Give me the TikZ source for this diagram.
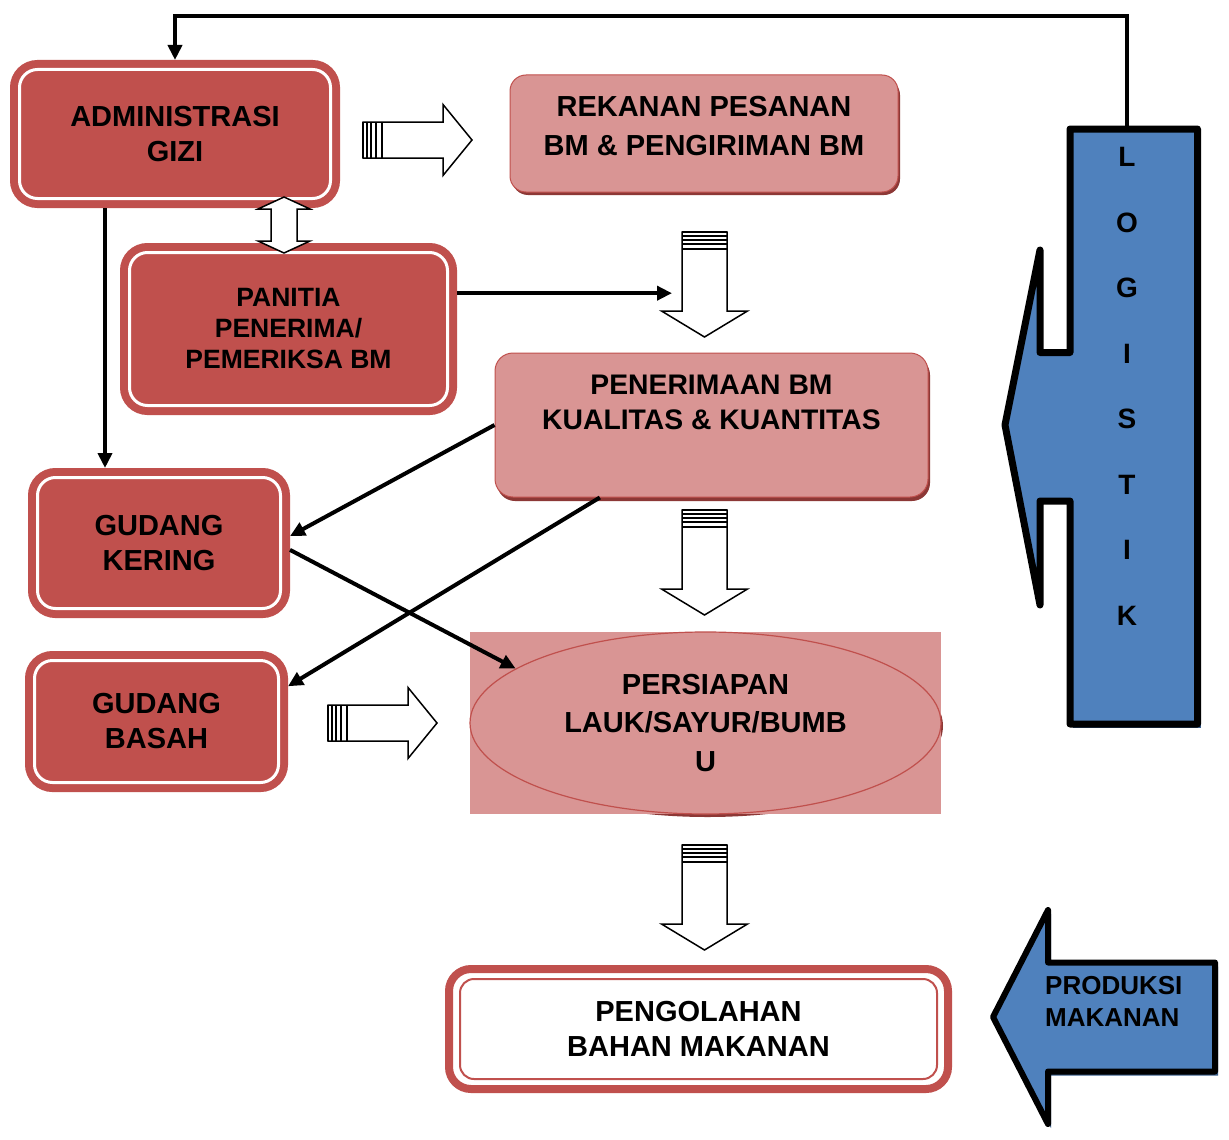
\documentclass[tikz,border=0pt]{standalone}
\usepackage{fontspec}
\setmainfont{Liberation Sans}
\usetikzlibrary{arrows.meta,shapes.geometric}
\definecolor{myred}{HTML}{C0504D}
\definecolor{lightred}{HTML}{D99594}
\definecolor{shadowred}{HTML}{8C3836}
\definecolor{myblue}{HTML}{4F81BD}
\definecolor{darkblue}{HTML}{385D8A}
\tikzset{
  blk/.style={draw=black, fill=white, line width=1.5pt, line join=miter},
  stripe/.style={draw=black, line width=1.1pt},
  pics/downblk/.style={code={
    \draw[blk] (-22.5,0) -- (-22.5,79) -- (-43,79) -- (0,105) -- (43,79) -- (22.5,79) -- (22.5,0) -- cycle;
    \foreach \s in {0,4,8,12,17} \draw[stripe] (-22.5,\s) -- (22.5,\s);
  }},
  pics/rightblk/.style={code={
    \draw[blk] (0,-18) -- (80,-18) -- (80,-35.5) -- (109,0) -- (80,35.5) -- (80,18) -- (0,18) -- cycle;
    \foreach \s in {0,4,8,13,19} \draw[stripe] (\s,-18) -- (\s,18);
  }},
}
\begin{document}
\begin{tikzpicture}[x=1pt,y=-1pt,
  f28/.style={font=\fontsize{29}{35}\selectfont\bfseries},
  dbox/.style={draw=myred, line width=8pt, double=white, double distance=3pt, fill=myred,
    rounded corners=18pt, outer sep=9.5pt, inner sep=0pt, align=center},
  lbox/.style={draw=myred, line width=1pt, fill=lightred, rounded corners=16pt, inner sep=0pt, align=center},
  conn/.style={line width=4pt, -{Triangle[length=15pt,width=14pt]}},
]
\fill[white] (0,0) rectangle (1229,1140);
\path[use as bounding box] (0,0) rectangle (1229,1140);

% left dark red boxes
\node[dbox, f28, minimum width=311pt, minimum height=129pt] (admin) at (175,134) {ADMINISTRASI\\GIZI};
\node[dbox, font=\fontsize{26.5}{31}\selectfont\bfseries, minimum width=318pt, minimum height=153pt] (pan) at (288.5,329) {PANITIA\\PENERIMA/\\PEMERIKSA BM};
\node[dbox, f28, minimum width=243pt, minimum height=131pt] (gk) at (159,543) {GUDANG\\KERING};
\node[dbox, f28, minimum width=244pt, minimum height=122pt] (gb) at (156.5,721.5) {GUDANG\\BASAH};

% light red boxes
\fill[shadowred, rounded corners=16pt] (512,79) rectangle (900,195);
\node[lbox, font=\fontsize{29}{39}\selectfont\bfseries, text depth=16pt, minimum width=388pt, minimum height=117pt] (rek) at (704,133.5) {REKANAN PESANAN\\BM \& PENGIRIMAN BM};
\fill[shadowred, rounded corners=18pt] (497,357) rectangle (930,501);
\node[lbox, font=\fontsize{28.3}{35}\selectfont\bfseries, rounded corners=18pt, text depth=45pt, minimum width=433pt, minimum height=144pt] (pen) at (711.5,425) {PENERIMAAN BM\\KUALITAS \& KUANTITAS};

% persiapan
\fill[shadowred] (707.5,726) ellipse [x radius=235.5, y radius=91];
\fill[lightred] (470,632) rectangle (941,814);
\node[ellipse, draw=myred, line width=1.2pt, fill=lightred, minimum width=471pt, minimum height=182pt, inner sep=0pt, align=center, font=\fontsize{29}{38.5}\selectfont\bfseries] (prep) at (705.5,723) {PERSIAPAN\\LAUK/SAYUR/BUMB\\U};

% pengolahan
\node[draw=myred, line width=8pt, fill=white, rounded corners=22pt, minimum width=499pt, minimum height=120pt, outer sep=4pt, inner sep=0pt, align=center, f28] (peng) at (698.5,1029) {PENGOLAHAN\\BAHAN MAKANAN};
\draw[myred, line width=2pt, rounded corners=14pt] ([shift={(15,14)}]peng.north west) rectangle ([shift={(-15,-14)}]peng.south east);

% LOGISTIK callout
\fill[darkblue] (1073,133) rectangle (1201,728);
\draw[line width=7pt, fill=myblue, line join=round] (1070,129) -- (1197.5,129) -- (1197.5,724) -- (1070,724) -- (1070,501) -- (1040,501) -- (1040,605) -- (1005,425) -- (1040,250) -- (1040,352.5) -- (1070,352.5) -- cycle;
\node[inner sep=0pt, align=center, minimum width=120pt, minimum height=595pt, text depth=80.5pt, font=\fontsize{28}{65.5}\selectfont\bfseries] (logi) at (1127,426.5) {L\\O\\G\\I\\S\\T\\I\\K};

% PRODUKSI MAKANAN arrow
\fill[darkblue] (1218,966.5) -- (1051,966.5) -- (1051,914) -- (996,1021) -- (1051,1128) -- (1051,1075.5) -- (1218,1075.5) -- cycle;
\draw[line width=6pt, fill=myblue, line join=round] (1215,962.5) -- (1048,962.5) -- (1048,910) -- (993,1017) -- (1048,1124) -- (1048,1071.5) -- (1215,1071.5) -- cycle;
\node[anchor=west, align=left, inner sep=0pt, font=\fontsize{26}{32}\selectfont\bfseries] (prod) at (1045,1001) {PRODUKSI\\MAKANAN};

% block arrows
\pic at (704.5,232) {downblk};
\pic at (704.5,510) {downblk};
\pic at (704.5,845) {downblk};
\pic at (363,140) {rightblk};
\begin{scope}[shift={(328,723)}, yscale=1.24]
  \pic {rightblk};
\end{scope}
\draw[blk] (284,197) -- (310,209) -- (297,209) -- (297,241) -- (310,241) -- (284,253) -- (258,241) -- (271,241) -- (271,209) -- (258,209) -- cycle;

% connectors
\coordinate (c105) at (105,0);
\coordinate (tipA) at (672,292);
\draw[conn] (logi.north) -- ++(0,-113) -| (admin.north);
\draw[conn] (admin.south -| c105) -- (gk.north -| c105);
\draw[conn] (pan.12) -- (pan.12 -| tipA);
\draw[conn] (pen.west) -- (gk.3);
\draw[conn] (pen.213) -- (gb.15);
\draw[conn] (gk.-3) -- (prep.164);
\end{tikzpicture}
\end{document}
